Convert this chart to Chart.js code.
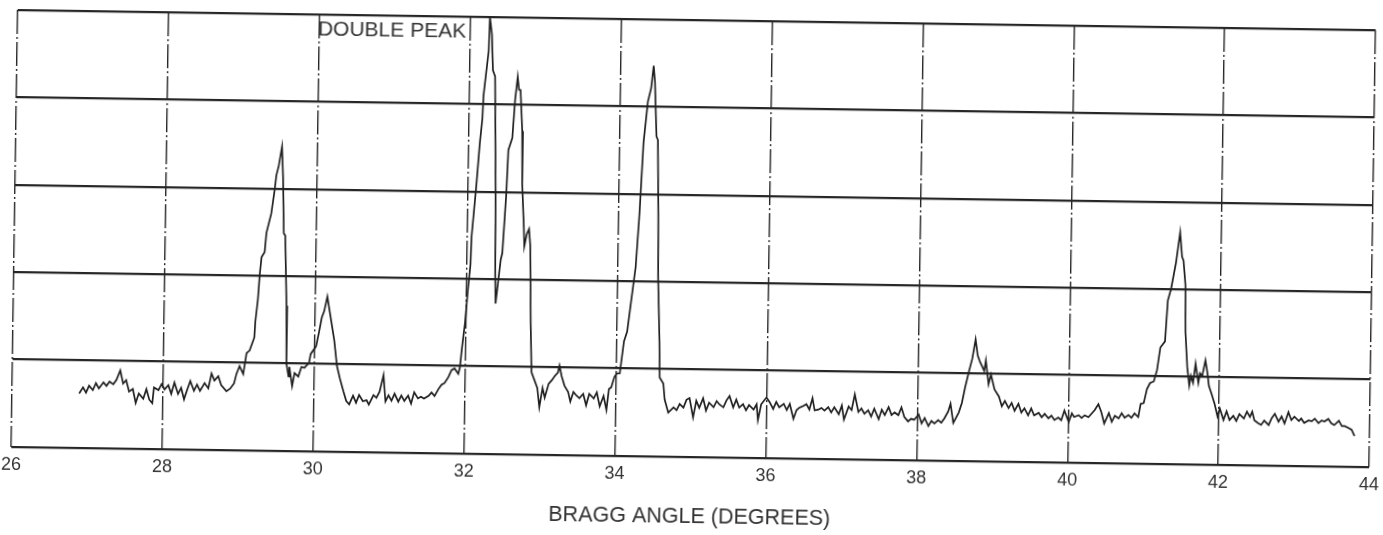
<!DOCTYPE html>
<html>
<head>
<meta charset="utf-8">
<title>Bragg angle scan</title>
<script src="https://cdn.jsdelivr.net/npm/chart.js@4.4.1/dist/chart.umd.min.js"></script>
<style>
    html, body { margin: 0; padding: 0; background: #fff; overflow: hidden; }
    /* the scanned sheet sits slightly skewed, so the whole plot is turned a hair */
    #sheet { width: 1383px; height: 535px; transform: rotate(0.85deg); transform-origin: 50% 50%; }
</style>
</head>
<body>
<div id="sheet"><canvas id="scan" width="1383" height="535"></canvas></div>
<script>
// ─── Data (intensity: 100 = one grid division) ────────────────────────────────
const braggAngle = [
    26.89, 26.94, 26.98, 27.02, 27.07, 27.11, 27.15, 27.21, 27.25, 27.29, 27.34, 27.38, 27.43, 27.47, 27.51, 27.55,
    27.60, 27.64, 27.68, 27.74, 27.78, 27.82, 27.86, 27.88, 27.94, 27.98, 28.02, 28.07, 28.11, 28.15, 28.20, 28.24,
    28.28, 28.32, 28.36, 28.41, 28.45, 28.49, 28.55, 28.60, 28.64, 28.68, 28.73, 28.77, 28.84, 28.89, 28.94, 28.97,
    29.01, 29.06, 29.10, 29.14, 29.20, 29.21, 29.24, 29.26, 29.28, 29.32, 29.34, 29.40, 29.44, 29.46, 29.49, 29.53,
    29.55, 29.57, 29.59, 29.62, 29.63, 29.66, 29.67, 29.71, 29.74, 29.79, 29.83, 29.87, 29.93, 29.95,
    30.02, 30.06, 30.09, 30.12, 30.16, 30.20, 30.26, 30.30, 30.34, 30.39, 30.43, 30.47, 30.52, 30.56, 30.60, 30.65,
    30.70, 30.73, 30.79, 30.83, 30.87, 30.92, 30.95, 30.99, 31.03, 31.07, 31.12, 31.16, 31.20, 31.25, 31.29, 31.33,
    31.38, 31.42, 31.46, 31.52, 31.56, 31.60, 31.65, 31.69, 31.73, 31.78, 31.82, 31.86, 31.91, 31.93,
    31.95, 31.99, 32.02, 32.05, 32.06, 32.11, 32.15, 32.18, 32.19, 32.25, 32.26, 32.29, 32.31, 32.34, 32.35, 32.37,
    32.38, 32.39, 32.42, 32.45, 32.47, 32.51, 32.53, 32.58, 32.61, 32.64, 32.66, 32.68, 32.71, 32.72, 32.75, 32.76,
    32.79, 32.82, 32.84, 32.86, 32.88, 32.92, 32.96, 32.99, 33.03, 33.06, 33.11, 33.15, 33.19, 33.23, 33.25, 33.28,
    33.32, 33.37, 33.40, 33.44, 33.48, 33.52, 33.57, 33.61, 33.65, 33.71, 33.75, 33.79, 33.84, 33.88, 33.91, 33.94,
    33.98, 34.01, 34.05, 34.10, 34.14, 34.18, 34.24, 34.28, 34.32, 34.37, 34.41, 34.44, 34.46, 34.49, 34.51, 34.53,
    34.54, 34.57, 34.58, 34.63, 34.65, 34.70,
    34.77, 34.81, 34.85, 34.90, 34.94, 34.98, 35.03, 35.07, 35.11, 35.16, 35.20, 35.24, 35.30, 35.34, 35.38, 35.43,
    35.47, 35.51, 35.56, 35.60, 35.64, 35.69, 35.73, 35.77, 35.83, 35.87, 35.89, 35.93, 36.00, 36.04, 36.09, 36.13,
    36.17, 36.23, 36.27, 36.31, 36.36, 36.40, 36.44, 36.49, 36.53, 36.57, 36.61, 36.64, 36.69, 36.73, 36.77, 36.82,
    36.86, 36.90, 36.96, 37.00, 37.03, 37.09, 37.13, 37.17, 37.22, 37.26, 37.30, 37.35, 37.39, 37.43, 37.49, 37.53,
    37.57, 37.62, 37.66, 37.70, 37.75, 37.79, 37.83, 37.88, 37.92, 37.96, 38.02, 38.06, 38.10, 38.15, 38.19, 38.23,
    38.28, 38.32, 38.36, 38.41, 38.44,
    38.48, 38.55, 38.59, 38.63, 38.68, 38.72, 38.76, 38.79, 38.82, 38.88, 38.90, 38.94, 38.97, 39.02, 39.08, 39.12,
    39.16, 39.21, 39.25, 39.29, 39.34, 39.38, 39.42, 39.47, 39.51, 39.55, 39.61, 39.65, 39.69, 39.74, 39.78, 39.82,
    39.87, 39.91, 39.95, 40.01, 40.05, 40.08, 40.14, 40.18, 40.22, 40.27, 40.31, 40.35, 40.40, 40.44, 40.48, 40.54,
    40.58, 40.62, 40.67, 40.71, 40.75, 40.80, 40.84, 40.88, 40.93, 40.96, 41.00, 41.04, 41.08, 41.13, 41.17, 41.21,
    41.27,
    41.30, 41.34, 41.40, 41.42, 41.45, 41.48, 41.50, 41.53, 41.54, 41.57, 41.60, 41.62, 41.65, 41.68, 41.72, 41.74,
    41.77, 41.81, 41.84, 41.86, 41.90, 41.94, 41.98, 42.01, 42.06, 42.10, 42.14, 42.19, 42.23, 42.27, 42.33, 42.37,
    42.41, 42.44, 42.47, 42.52, 42.56, 42.60, 42.66, 42.70, 42.74, 42.79, 42.83, 42.87, 42.92, 42.96, 43.00, 43.06,
    43.09, 43.13, 43.19, 43.23, 43.27, 43.32, 43.36, 43.40, 43.45, 43.49, 43.53, 43.59, 43.63, 43.67, 43.72, 43.76,
    43.80
];

const intensity = [
    62, 69, 63, 71, 66, 74, 68, 75, 71, 76, 73, 78, 89, 74, 78, 65,
    68, 52, 63, 57, 68, 56, 52, 70, 67, 74, 68, 73, 63, 76, 63, 70,
    57, 68, 78, 67, 74, 67, 76, 70, 87, 79, 84, 74, 67, 70, 76, 87,
    96, 87, 111, 114, 129, 147, 173, 202, 221, 227, 249, 271, 298, 315, 326, 348,
    312, 249, 246, 166, 100, 85, 96, 74, 89, 85, 96, 95, 101, 111,
    120, 138, 153, 160, 177, 157, 127, 98, 84, 69, 58, 54, 64, 56, 65, 58,
    59, 54, 65, 62, 69, 88, 58, 65, 59, 67, 58, 65, 59, 65, 56, 69,
    62, 64, 62, 65, 69, 65, 73, 78, 80, 87, 95, 97, 91, 98,
    117, 150, 186, 216, 249, 304, 355, 384, 410, 461, 500, 480, 439, 432, 388, 296,
    205, 172, 197, 222, 230, 296, 348, 362, 406, 432, 417, 417, 370, 310, 260, 238,
    252, 258, 238, 150, 94, 85, 76, 54, 76, 65, 81, 85, 90, 94, 102, 90,
    79, 72, 61, 72, 68, 65, 70, 57, 70, 65, 72, 56, 68, 52, 76, 78,
    90, 94, 94, 131, 142, 172, 216, 277, 359, 406, 421, 447, 428, 366, 362, 277,
    205, 131, 90, 83, 65, 50,
    56, 53, 60, 56, 65, 67, 45, 64, 56, 67, 53, 62, 57, 64, 60, 57,
    65, 70, 57, 66, 57, 61, 54, 60, 55, 61, 43, 61, 69, 64, 56, 64,
    58, 62, 55, 62, 45, 55, 58, 60, 62, 56, 69, 55, 56, 58, 55, 59,
    53, 59, 51, 61, 45, 60, 56, 74, 54, 58, 52, 56, 49, 58, 46, 57,
    51, 60, 51, 54, 51, 60, 49, 44, 47, 46, 52, 42, 48, 39, 45, 42,
    46, 43, 48, 56, 65,
    43, 55, 66, 84, 103, 117, 139, 121, 114, 103, 115, 88, 99, 82, 74, 63,
    69, 61, 67, 58, 66, 56, 61, 53, 61, 53, 56, 51, 55, 50, 53, 48,
    51, 48, 59, 46, 56, 52, 54, 51, 54, 52, 56, 60, 67, 58, 45, 57,
    47, 54, 51, 57, 52, 55, 52, 57, 53, 68, 69, 85, 92, 94, 107, 133,
    140,
    187, 200, 230, 244, 265, 237, 233, 205, 151, 111, 90, 101, 93, 115, 93, 104,
    101, 119, 104, 90, 80, 69, 55, 64, 51, 61, 51, 56, 50, 58, 53, 61,
    55, 61, 51, 48, 46, 51, 46, 54, 59, 50, 56, 48, 61, 52, 56, 51,
    54, 49, 52, 51, 54, 49, 52, 51, 54, 49, 47, 52, 46, 46, 44, 42,
    35
];

const angleTicks = [26, 28, 30, 32, 34, 36, 38, 40, 42, 44];
const intensityLevels = [0, 100, 200, 300, 400, 500];

const noteText = 'DOUBLE PEAK';
const noteAngle = 32;          // the note sits just left of this grid line
const axisTitle = 'BRAGG ANGLE (DEGREES)';

// ─── Styling ──────────────────────────────────────────────────────────────────
const INK = '#1f1f1f';
const GRID_INK = '#262626';
const TEXT_INK = '#333333';
const FONT = '"Liberation Sans", Arial, Helvetica, sans-serif';

// small inline plugin for the hand-lettered note at the top of the chart
const peakNotePlugin = {
    id: 'peakNote',
    afterDatasetsDraw(chart) {
        const { ctx, chartArea, scales } = chart;
        ctx.save();
        ctx.font = `21px ${FONT}`;
        ctx.fillStyle = TEXT_INK;
        ctx.textAlign = 'right';
        ctx.textBaseline = 'middle';
        ctx.fillText(noteText, scales.x.getPixelForValue(noteAngle) - 4, chartArea.top + 15);
        ctx.restore();
    }
};

new Chart(document.getElementById('scan'), {
    type: 'line',
    data: {
        datasets: [{
            label: 'Intensity',
            data: braggAngle.map((a, i) => ({ x: a, y: intensity[i] })),
            borderColor: INK,
            borderWidth: 1.7,
            pointRadius: 0,
            tension: 0,
            fill: false
        }]
    },
    options: {
        responsive: false,
        animation: false,
        devicePixelRatio: 1,
        layout: { padding: { left: 14, right: 11, top: 20, bottom: 0 } },
        plugins: {
            legend: { display: false },
            tooltip: { enabled: false }
        },
        scales: {
            x: {
                type: 'linear',
                min: angleTicks[0],
                max: angleTicks[angleTicks.length - 1],
                afterBuildTicks: scale => { scale.ticks = angleTicks.map(v => ({ value: v })); },
                // invisible tick marks give the label gap without widening the side padding
                grid: { color: GRID_INK, lineWidth: 1.4, drawTicks: true, tickLength: 8, tickColor: 'rgba(0,0,0,0)' },
                border: { display: false, dash: [24, 3, 2, 3] },
                ticks: {
                    color: TEXT_INK,
                    font: { family: FONT, size: 18, lineHeight: 1.2 },
                    padding: 0,
                    maxRotation: 0,
                    autoSkip: false
                },
                title: {
                    display: true,
                    text: axisTitle,
                    color: TEXT_INK,
                    font: { family: FONT, size: 21.5, lineHeight: 1.2 },
                    padding: { top: 18, bottom: 5 }
                }
            },
            y: {
                min: intensityLevels[0],
                max: intensityLevels[intensityLevels.length - 1],
                afterBuildTicks: scale => { scale.ticks = intensityLevels.map(v => ({ value: v })); },
                grid: { color: GRID_INK, lineWidth: 2.2, drawTicks: false },
                border: { display: false },
                ticks: { display: false }
            }
        }
    },
    plugins: [peakNotePlugin]
});
</script>
</body>
</html>
